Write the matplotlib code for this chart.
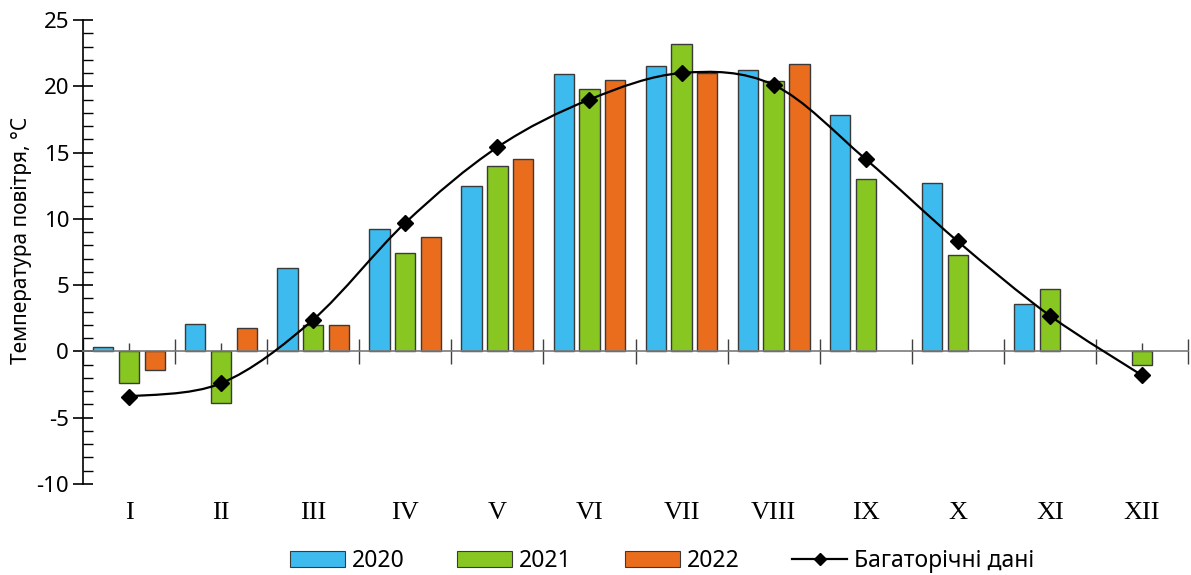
import numpy as np
import matplotlib.pyplot as plt
from matplotlib.path import Path
from matplotlib.patches import PathPatch
from matplotlib.lines import Line2D

months = ['I', 'II', 'III', 'IV', 'V', 'VI', 'VII', 'VIII', 'IX', 'X', 'XI', 'XII']
t2020 = [0.3, 2.1, 6.3, 9.2, 12.5, 20.9, 21.5, 21.2, 17.8, 12.7, 3.6, np.nan]
t2021 = [-2.4, -3.9, 2.0, 7.4, 14.0, 19.8, 23.2, 20.4, 13.0, 7.3, 4.7, -1.0]
t2022 = [-1.4, 1.8, 2.0, 8.6, 14.5, 20.5, 21.0, 21.7, np.nan, np.nan, np.nan, np.nan]
norm = [-3.4, -2.4, 2.4, 9.7, 15.4, 19.0, 21.0, 20.1, 14.5, 8.3, 2.7, -1.8]

C2020 = '#3DBBEE'
C2021 = '#88C621'
C2022 = '#E96D1D'
EDGE = '#3a3a3a'

plt.rcParams['font.family'] = ['Noto Sans', 'DejaVu Sans']
plt.rcParams['axes.unicode_minus'] = False

fig = plt.figure(figsize=(11.91, 5.75), dpi=100)
ax = fig.add_axes([83/1191, 1-484/575, (1188-83)/1191, (484-20)/575])

x = np.arange(len(months))
w = 0.22
off = 0.28
ax.bar(x - off, t2020, w, color=C2020, edgecolor=EDGE, linewidth=1, label='2020', zorder=2)
ax.bar(x, t2021, w, color=C2021, edgecolor=EDGE, linewidth=1, label='2021', zorder=2)
ax.bar(x + off, t2022, w, color=C2022, edgecolor=EDGE, linewidth=1, label='2022', zorder=2)

# smoothed line (bezier through the points, like spreadsheet "smooth line")
pts = np.column_stack([x, norm]).astype(float)
verts = [tuple(pts[0])]
codes = [Path.MOVETO]
n = len(pts)
for i in range(n - 1):
    p0 = pts[max(i - 1, 0)]
    p1 = pts[i]
    p2 = pts[i + 1]
    p3 = pts[min(i + 2, n - 1)]
    c1 = p1 + (p2 - p0) / 6
    c2 = p2 - (p3 - p1) / 6
    verts += [tuple(c1), tuple(c2), tuple(p2)]
    codes += [Path.CURVE4, Path.CURVE4, Path.CURVE4]
ax.add_patch(PathPatch(Path(verts, codes), facecolor='none', edgecolor='black', lw=1.6, zorder=3))
ax.plot(x, norm, linestyle='none', marker='D', markersize=8.5, color='black', zorder=4)

ax.set_xlim(-0.5, 11.5)
ax.set_ylim(-10, 25)

for s in ['top', 'right']:
    ax.spines[s].set_visible(False)
ax.spines['bottom'].set_position(('data', 0))
ax.spines['bottom'].set_color('#7a7a7a')
ax.spines['bottom'].set_linewidth(1.2)
ax.spines['left'].set_linewidth(1.2)

ax.set_xticks(np.arange(-0.5, 12, 1))
ax.set_xticks(x, minor=True)
ax.tick_params(axis='x', which='major', direction='inout', length=18, width=1, color='#404040', labelbottom=False)
ax.tick_params(axis='x', which='minor', direction='in', length=6, width=1, color='#404040', labelbottom=False)

ax.set_yticks(np.arange(-10, 26, 5))
ax.set_yticks(np.arange(-10, 26, 1), minor=True)
ax.tick_params(axis='y', which='major', direction='inout', length=14, width=1.2, labelsize=16, pad=3)
ax.tick_params(axis='y', which='minor', direction='in', length=7, width=1)

for i, m in enumerate(months):
    ax.text(i, -12.2, m, ha='center', va='center', fontsize=19,
            family=['Liberation Serif', 'DejaVu Serif'], clip_on=False)

fig.text(22/1191, 1-240/575, 'Температура повітря, °С', rotation=90, ha='center', va='center', fontsize=15)

handles = [
    plt.Rectangle((0, 0), 1, 1, facecolor=C2020, edgecolor=EDGE, lw=0.8),
    plt.Rectangle((0, 0), 1, 1, facecolor=C2021, edgecolor=EDGE, lw=0.8),
    plt.Rectangle((0, 0), 1, 1, facecolor=C2022, edgecolor=EDGE, lw=0.8),
    Line2D([], [], color='black', lw=1.6, marker='D', markersize=6),
]
fig.legend(handles, ['2020', '2021', '2022', 'Багаторічні дані'], loc='center',
           bbox_to_anchor=(662/1191, 1-561/575), ncol=4, frameon=False, fontsize=16.5,
           handlelength=2.4, handleheight=0.7, handletextpad=0.3, columnspacing=2.3)

fig.savefig('out.png', dpi=100)
